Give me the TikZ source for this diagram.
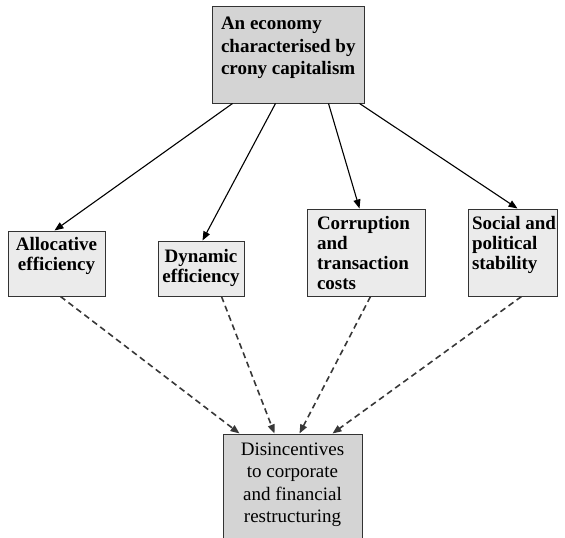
\documentclass[tikz,border=0pt]{standalone}
\usepackage{fontspec}
\setmainfont{Liberation Serif}
\usetikzlibrary{arrows.meta}
\definecolor{darkfill}{gray}{0.83}
\definecolor{lightfill}{gray}{0.92}
\definecolor{edgegray}{gray}{0.2}
\tikzset{
    headbox/.style={draw=edgegray, line width=1pt, fill=darkfill, inner sep=0pt,
        font=\bfseries\fontsize{19}{22.5}\selectfont},
    factorbox/.style={draw=edgegray, line width=1pt, fill=lightfill, inner sep=0pt,
        font=\bfseries\fontsize{19}{20}\selectfont},
    resultbox/.style={draw=edgegray, line width=1pt, fill=darkfill, inner sep=0pt,
        font=\fontsize{19}{22.3}\selectfont},
    link/.style={line width=1.1pt, -{Triangle[length=9pt,width=7pt]}},
    weaklink/.style={line width=1.6pt, draw=black!78, dash pattern=on 6pt off 4pt,
        -{Triangle[length=9pt,width=7pt]}},
    }
% width, height, top space, text
\newcommand{\boxtext}[4]{\parbox[c][#2][t]{#1}{\vspace*{#3}#4}}

\begin{document}
\begin{tikzpicture}[x=1pt,y=-1pt]
	\useasboundingbox (0,0) rectangle (565,538);
	\node[headbox] (crony) at (288,54.5)
		{\boxtext{152pt}{97pt}{11pt}{\raggedright\leftskip=9pt An economy\\characterised by\\crony capitalism}};
	\node[factorbox] (alloc) at (56.5,263.5)
		{\boxtext{97pt}{65pt}{6pt}{\centering Allocative\\efficiency}};
	\node[factorbox] (dyn) at (201,268.5)
		{\boxtext{86pt}{55pt}{8pt}{\centering Dynamic\\efficiency}};
	\node[factorbox] (corrupt) at (366,252.5)
		{\boxtext{118pt}{87pt}{7pt}{\raggedright\leftskip=10pt Corruption\\and\\transaction\\costs}};
	\node[factorbox] (stab) at (512.5,252.5)
		{\boxtext{89pt}{87pt}{7pt}{\raggedright\leftskip=4pt Social and\\political\\stability}};
	\node[resultbox] (disinc) at (292.5,487)
		{\boxtext{139pt}{106pt}{9pt}{\centering Disincentives\\to corporate\\and financial\\restructuring}};
	% crony capitalism -> factors
	\draw[link] ([xshift=21pt]crony.south west) -- ([xshift=47pt]alloc.north west);
	\draw[link] ([xshift=64pt]crony.south west) -- ([xshift=45pt]dyn.north west);
	\draw[link] ([xshift=117pt]crony.south west) -- ([xshift=53pt]corrupt.north west);
	\draw[link] ([xshift=148pt]crony.south west) -- ([xshift=50pt]stab.north west);
	% factors -> disincentives
	\draw[weaklink] ([xshift=53pt]alloc.south west) -- ([xshift=17pt]disinc.north west);
	\draw[weaklink] ([xshift=64pt]dyn.south west) -- ([xshift=52pt]disinc.north west);
	\draw[weaklink] ([xshift=64pt]corrupt.south west) -- ([xshift=77pt]disinc.north west);
	\draw[weaklink] ([xshift=54pt]stab.south west) -- ([xshift=110pt]disinc.north west);
\end{tikzpicture}
\end{document}
